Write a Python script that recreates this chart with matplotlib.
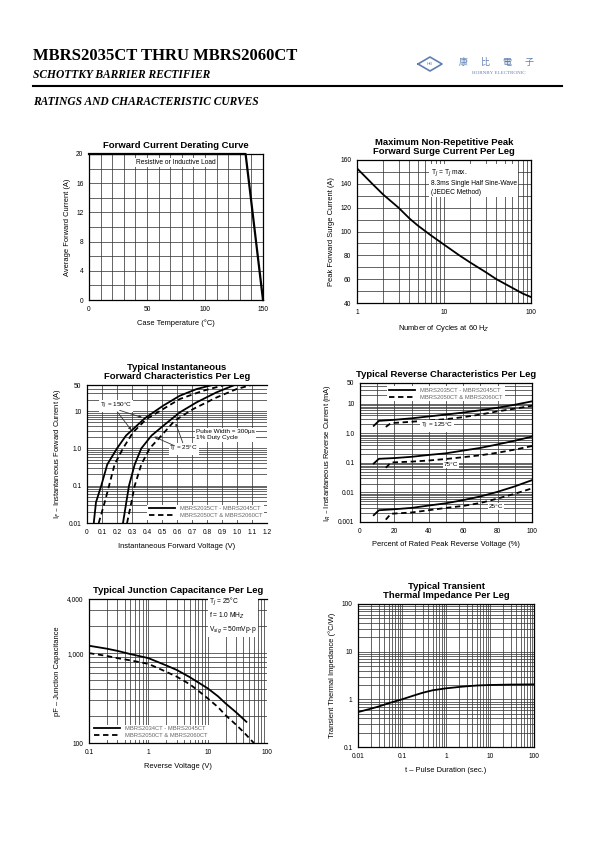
import matplotlib
matplotlib.use("Agg")
import matplotlib.pyplot as plt
from matplotlib.ticker import NullFormatter, LogLocator, MultipleLocator
from matplotlib.lines import Line2D

plt.rcParams['font.family'] = ['Liberation Sans', 'DejaVu Sans']

# ---- data ----
# derating
derate_temp = [0, 135, 150]
derate_amp = [20, 20, 0]

# surge current
surge_cycles = [1, 1.5, 2, 3, 4, 5, 7, 10, 15, 20, 30, 40, 60, 80, 100]
surge_amp = [153, 140, 131, 120, 111, 105, 97, 89, 80, 74, 66, 60, 53, 48, 45]

# forward characteristics (V, A)
fwd150_v = [0.045, 0.06, 0.095, 0.135, 0.2, 0.26, 0.385, 0.507, 0.618, 0.73, 0.835]
fwd150_i = [0.01, 0.036, 0.1, 0.37, 1.0, 2.2, 6.4, 13.9, 25.7, 38.8, 50]
fwd150d_v = [0.078, 0.118, 0.147, 0.184, 0.24, 0.307, 0.396, 0.507, 0.618, 0.773, 0.918]
fwd150d_i = [0.01, 0.036, 0.1, 0.37, 1.0, 2.7, 6.1, 11.3, 21, 35, 50]
fwd25_v = [0.24, 0.262, 0.28, 0.318, 0.362, 0.43, 0.507, 0.618, 0.729, 0.862, 0.984]
fwd25_i = [0.01, 0.036, 0.1, 0.37, 1.0, 2.2, 4.0, 9.2, 17, 31.6, 50]
fwd25d_v = [0.267, 0.296, 0.318, 0.362, 0.418, 0.496, 0.584, 0.707, 0.862, 0.996, 1.096]
fwd25d_i = [0.01, 0.036, 0.1, 0.37, 1.0, 2.2, 5.5, 11.3, 23, 38.8, 50]

# reverse characteristics (% of VRRM, mA)
rev_p = [8, 11, 20, 30, 40, 50, 60, 70, 80, 90, 100]
revd_p = [15, 18, 30, 40, 50, 60, 70, 80, 90, 100]
rev125_i = [1.78, 2.63, 2.85, 3.2, 3.7, 4.3, 5.0, 6.0, 7.3, 9.2, 12]
rev125d_i = [1.64, 2.2, 2.45, 2.7, 3.0, 3.5, 4.3, 5.5, 6.8, 8.5]
rev75_i = [0.095, 0.137, 0.145, 0.16, 0.185, 0.21, 0.26, 0.32, 0.42, 0.56, 0.77]
rev75d_i = [0.068, 0.103, 0.11, 0.12, 0.135, 0.155, 0.18, 0.22, 0.28, 0.37]
rev25_i = [0.0017, 0.0025, 0.0027, 0.003, 0.0036, 0.0043, 0.0055, 0.0073, 0.0105, 0.016, 0.026]
rev25d_i = [0.0012, 0.0019, 0.0021, 0.0025, 0.003, 0.0035, 0.0044, 0.0062, 0.009, 0.0137]

# junction capacitance (V, pF)
cap_v = [0.1, 0.2, 0.3, 0.5, 1, 2, 3, 5, 7, 10, 15, 20, 30, 45]
cap_pf = [1208, 1120, 1060, 975, 880, 730, 651, 540, 470, 406, 330, 276, 220, 172]
capd_v = [0.1, 0.2, 0.3, 0.5, 1, 2, 3, 5, 7, 10, 15, 20, 30, 40, 60]
capd_pf = [1000, 930, 880, 830, 760, 620, 548, 450, 380, 314, 250, 204, 160, 133, 100]

# transient thermal impedance
zth_t = [0.01, 0.02, 0.03, 0.05, 0.1, 0.2, 0.3, 0.5, 1, 2, 3, 5, 10, 30, 100]
zth_val = [0.54, 0.64, 0.71, 0.83, 1.0, 1.23, 1.38, 1.55, 1.7, 1.82, 1.88, 1.95, 2.0, 2.04, 2.06]

legend_labels = ["MBRS2035CT - MBRS2045CT", "MBRS2050CT & MBRS2060CT"]
legend_labels_cap = ["MBRS2034CT - MBRS2045CT", "MBRS2050CT & MBRS2060CT"]

W, H = 595, 842
fig = plt.figure(figsize=(W / 100, H / 100), dpi=100)

GRID = '#3a3a3a'
DASH = (0, (3, 2))


def px_axes(x0, y0, x1, y1):
    return fig.add_axes([x0 / W, 1 - y1 / H, (x1 - x0) / W, (y1 - y0) / H])


def style(ax, title, xlabel, ylabel):
    ax.set_title(title, fontsize=6.8, fontweight='bold', pad=4, linespacing=1.0)
    ax.set_xlabel(xlabel, fontsize=5.4, labelpad=5)
    ax.set_ylabel(ylabel, fontsize=5.4, labelpad=4)
    ax.tick_params(which='both', length=0, labelsize=4.8, pad=4)
    ax.grid(True, which='both', color=GRID, lw=0.55)
    ax.set_axisbelow(True)
    for s in ax.spines.values():
        s.set_linewidth(0.9)


def leg(ax, labels, loc):
    handles = [Line2D([], [], color='k', lw=1.3),
               Line2D([], [], color='k', lw=1.3, ls=DASH)]
    lg = ax.legend(handles, labels, loc=loc, fontsize=4.2, handlelength=4.5,
                   frameon=True, facecolor='white', edgecolor='none', framealpha=1,
                   borderpad=0.3, labelspacing=0.3, labelcolor='#666666')
    lg.get_frame().set_boxstyle('square', pad=0)


# ---- header ----
fig.text(33 / W, 1 - 56 / H, "MBRS2035CT THRU MBRS2060CT", family='Liberation Serif',
         fontweight='bold', fontsize=12, va='center')
fig.text(33 / W, 1 - 75 / H, "SCHOTTKY BARRIER RECTIFIER", family='Liberation Serif',
         fontweight='bold', style='italic', fontsize=8.3, va='center')
fig.add_artist(Line2D([33 / W, 562 / W], [1 - 86 / H, 1 - 86 / H], color='k', lw=1.5))
fig.text(33 / W, 1 - 102 / H, "RATINGS AND CHARACTERISTIC CURVES", family='Liberation Serif',
         fontweight='bold', style='italic', fontsize=8.3, va='center')
# logo
logo_c = '#5f7fb3'
dx = [418, 430, 442, 430, 418]
dy = [64, 57, 64, 71, 64]
fig.add_artist(Line2D([x / W for x in dx], [1 - y / H for y in dy], color=logo_c, lw=1.2))
fig.text(430 / W, 1 - 64 / H, "HB", fontsize=3.2, color=logo_c, ha='center', va='center')
for i, ch in enumerate("康比電子"):
    fig.text((463 + i * 22) / W, 1 - 63 / H, ch, family=['Noto Sans CJK TC', 'DejaVu Sans'],
             fontsize=6.5, color=logo_c, ha='center', va='center')
fig.text(499 / W, 1 - 73 / H, "HORNBY ELECTRONIC", family='Liberation Serif', fontsize=3.6,
         color=logo_c, ha='center', va='center')

# ---- 1. derating ----
ax = px_axes(89, 154, 263, 300)
ax.plot(derate_temp, derate_amp, color='k', lw=1.6, clip_on=False, zorder=3)
ax.set_xlim(0, 150)
ax.set_ylim(0, 20)
ax.set_xticks([0, 50, 100, 150])
ax.set_yticks([0, 4, 8, 12, 16, 20])
ax.xaxis.set_minor_locator(MultipleLocator(10))
ax.yaxis.set_minor_locator(MultipleLocator(2))
style(ax, "Forward Current Derating Curve", "Case Temperature (°C)",
      "Average Forward Current (A)")
ax.text(75, 18.8, "Resistive or Inductive Load", fontsize=4.8, ha='center', va='center',
        bbox=dict(facecolor='white', edgecolor='none', pad=0.8))

# ---- 2. surge ----
ax = px_axes(357, 160, 531, 303)
ax.plot(surge_cycles, surge_amp, color='k', lw=1.3)
ax.set_xscale('log')
ax.set_xlim(1, 100)
ax.set_ylim(40, 160)
ax.set_xticks([1, 10, 100])
ax.set_xticklabels(["1", "10", "100"])
ax.xaxis.set_minor_locator(LogLocator(subs=range(2, 10)))
ax.xaxis.set_minor_formatter(NullFormatter())
ax.set_yticks(range(40, 161, 20))
ax.yaxis.set_minor_locator(MultipleLocator(10))
style(ax, "Maximum Non-Repetitive Peak\nForward Surge Current Per Leg",
      "Number of Cycles at 60 H$_Z$", "Peak Forward Surge Current (A)")
ax.text(7, 142, "T$_J$ = T$_J$ max.\n8.3ms Single Half Sine-Wave\n(JEDEC Method)",
        fontsize=4.8, ha='left', va='center', linespacing=1.3,
        bbox=dict(facecolor='white', edgecolor='none', pad=1.0))

# ---- 3. forward characteristics ----
ax = px_axes(87, 385, 267, 523)
ax.plot(fwd150_v, fwd150_i, color='k', lw=1.3)
ax.plot(fwd150d_v, fwd150d_i, color='k', lw=1.3, ls=DASH)
ax.plot(fwd25_v, fwd25_i, color='k', lw=1.3)
ax.plot(fwd25d_v, fwd25d_i, color='k', lw=1.3, ls=DASH)
ax.set_yscale('log')
ax.set_xlim(0, 1.2)
ax.set_ylim(0.01, 50)
ax.set_xticks([i / 10 for i in range(13)])
ax.set_xticklabels(["0"] + ["%.1f" % (i / 10) for i in range(1, 13)])
ax.set_yticks([0.01, 0.1, 1.0, 10, 50])
ax.set_yticklabels(["0.01", "0.1", "1.0", "10", "50"])
ax.yaxis.set_minor_locator(LogLocator(subs=range(2, 10)))
ax.yaxis.set_minor_formatter(NullFormatter())
style(ax, "Typical Instantaneous\nForward Characteristics Per Leg",
      "Instantaneous Forward Voltage (V)", "I$_F$ – Instantaneous Forward Current (A)")
ax.spines['right'].set_visible(False)
arr = dict(arrowstyle='-|>', color='#333333', lw=0.6, mutation_scale=4)
ax.text(0.195, 14, "T$_J$ = 150°C", fontsize=4.6, ha='center', va='center',
        bbox=dict(facecolor='white', edgecolor='none', pad=0.6))
ax.annotate("", xy=(0.385, 6.4), xytext=(0.2, 11), arrowprops=arr)
ax.annotate("", xy=(0.307, 2.7), xytext=(0.19, 11), arrowprops=arr)
ax.text(0.73, 2.3, "Pulse Width = 300μs\n1% Duty Cycle", fontsize=4.6, ha='left',
        va='center', linespacing=1.3, bbox=dict(facecolor='white', edgecolor='none', pad=0.8))
ax.text(0.645, 0.95, "T$_J$ = 25°C", fontsize=4.6, ha='center', va='center',
        bbox=dict(facecolor='white', edgecolor='none', pad=0.6))
ax.annotate("", xy=(0.43, 2.2), xytext=(0.6, 1.1), arrowprops=arr)
ax.annotate("", xy=(0.585, 5.5), xytext=(0.645, 1.2), arrowprops=arr)
leg(ax, legend_labels, 'lower right')

# ---- 4. reverse characteristics ----
ax = px_axes(360, 383, 532, 522)
for p, i, ls in [(rev_p, rev125_i, '-'), (revd_p, rev125d_i, DASH),
                 (rev_p, rev75_i, '-'), (revd_p, rev75d_i, DASH),
                 (rev_p, rev25_i, '-'), (revd_p, rev25d_i, DASH)]:
    ax.plot(p, i, color='k', lw=1.3, ls=ls)
ax.set_yscale('log')
ax.set_xlim(0, 100)
ax.set_ylim(0.001, 50)
ax.set_xticks(range(0, 101, 20))
ax.xaxis.set_minor_locator(MultipleLocator(10))
ax.set_yticks([0.001, 0.01, 0.1, 1.0, 10, 50])
ax.set_yticklabels(["0.001", "0.01", "0.1", "1.0", "10", "50"])
ax.yaxis.set_minor_locator(LogLocator(subs=range(2, 10)))
ax.yaxis.set_minor_formatter(NullFormatter())
style(ax, "Typical Reverse Characteristics Per Leg",
      "Percent of Rated Peak Reverse Voltage (%)", "I$_R$ – Instantaneous Reverse Current (mA)")
lab = dict(fontsize=4.6, ha='center', va='center',
           bbox=dict(facecolor='white', edgecolor='none', pad=0.6))
ax.text(45, 1.75, "T$_J$ = 125°C", **lab)
ax.text(53, 0.088, "75°C", **lab)
ax.text(79, 0.0033, "25°C", **lab)
leg(ax, legend_labels, 'upper center')

# ---- 5. junction capacitance ----
ax = px_axes(89, 599, 267, 743)
ax.plot(cap_v, cap_pf, color='k', lw=1.3)
ax.plot(capd_v, capd_pf, color='k', lw=1.3, ls=DASH)
ax.set_xscale('log')
ax.set_yscale('log')
ax.set_xlim(0.1, 100)
ax.set_ylim(100, 4000)
ax.set_xticks([0.1, 1, 10, 100])
ax.set_xticklabels(["0.1", "1", "10", "100"])
ax.set_yticks([100, 1000, 4000])
ax.set_yticklabels(["100", "1,000", "4,000"])
for a in (ax.xaxis, ax.yaxis):
    a.set_minor_locator(LogLocator(subs=range(2, 10)))
    a.set_minor_formatter(NullFormatter())
style(ax, "Typical Junction Capacitance Per Leg", "Reverse Voltage (V)",
      "pF – Junction Capacitance")
ax.spines['right'].set_visible(False)
ax.text(10.5, 2600, "T$_J$ = 25°C\nf = 1.0 MH$_Z$\nV$_{sig}$ = 50mVp-p", fontsize=4.8,
        ha='left', va='center', linespacing=1.4,
        bbox=dict(facecolor='white', edgecolor='none', pad=0.8))
leg(ax, legend_labels_cap, 'lower left')

# ---- 6. transient thermal impedance ----
ax = px_axes(358, 604, 534, 747)
ax.plot(zth_t, zth_val, color='k', lw=1.3)
ax.set_xscale('log')
ax.set_yscale('log')
ax.set_xlim(0.01, 100)
ax.set_ylim(0.1, 100)
ax.set_xticks([0.01, 0.1, 1, 10, 100])
ax.set_xticklabels(["0.01", "0.1", "1", "10", "100"])
ax.set_yticks([0.1, 1, 10, 100])
ax.set_yticklabels(["0.1", "1", "10", "100"])
for a in (ax.xaxis, ax.yaxis):
    a.set_minor_locator(LogLocator(subs=range(2, 10)))
    a.set_minor_formatter(NullFormatter())
style(ax, "Typical Transient\nThermal Impedance Per Leg", "t – Pulse Duration (sec.)",
      "Transient Thermal Impedance (°C/W)")

fig.savefig("out.png", dpi=100)
